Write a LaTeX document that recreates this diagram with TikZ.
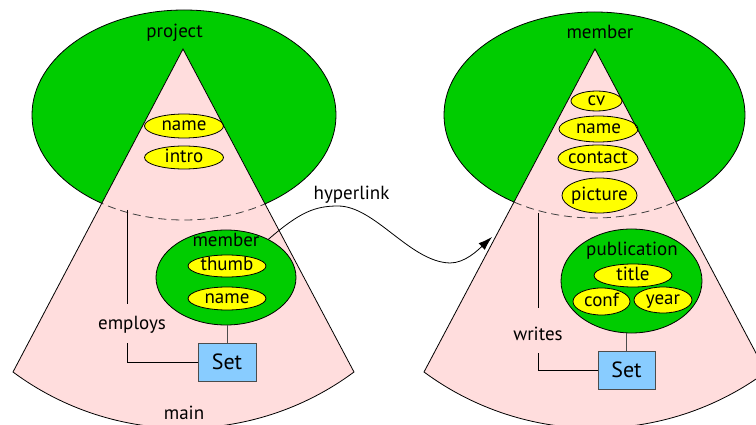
\documentclass[tikz,border=0pt]{standalone}
\usepackage{fontspec}
\setmainfont{PT Sans}
\usetikzlibrary{shapes.geometric,arrows.meta}
\definecolor{cgreen}{RGB}{0,204,0}
\definecolor{cpink}{RGB}{255,221,221}
\definecolor{cyell}{RGB}{255,255,0}
\definecolor{cblue}{RGB}{136,204,255}
\begin{document}
\begin{tikzpicture}[x=1pt,y=-1pt,line width=0.8pt,
  lab/.style={font=\fontsize{19}{21}\selectfont,anchor=base,inner sep=0},
  big/.style={ellipse,draw,fill=cgreen,inner sep=0},
  grn/.style={ellipse,draw,fill=cgreen,inner sep=0},
  yel/.style={ellipse,draw,fill=cyell,inner sep=-6pt,font=\fontsize{19}{21}\selectfont,text height=13.3pt,text depth=3.8pt},
  setbox/.style={draw=black!70,fill=cblue,minimum width=58pt,minimum height=38pt,inner sep=0,font=\fontsize{22}{24}\selectfont,text height=15.4pt,text depth=0pt},
  wire/.style={draw=black!70},
  hid/.style={draw=black!75,dash pattern=on 8pt off 5pt}]
\useasboundingbox (0,0) rectangle (756,425);
\clip (0,0) rectangle (756,425);
\fill[white] (0,0) rectangle (756,425);
% ---------- left: project ----------
\node[big,minimum width=304pt,minimum height=210pt] (P) at (184,115) {};
\fill[cpink] (183,49) -- (13,372) .. controls (114,447) and (253,447) .. (354,372) -- cycle;
\begin{scope}
\clip (183,49) -- (13,372) .. controls (114,447) and (253,447) .. (354,372) -- cycle;
\draw[hid] (184,115) ellipse [x radius=152pt,y radius=105pt];
\end{scope}
\node[lab] (projt) at (174.5,38) {project};
\node[yel,minimum width=79pt,minimum height=24pt] (pname) at (184,126) {name};
\node[yel,minimum width=79pt,minimum height=23pt] (pintro) at (184,157.5) {intro};
\node[grn,minimum width=140pt,minimum height=95pt] (mem1) at (226,277.5) {};
\node[lab] (mem1t) at (226,246.5) {member};
\node[yel,minimum width=78pt,minimum height=22pt] (thumb) at (227,266) {thumb};
\node[yel,minimum width=78pt,minimum height=23pt] (mname) at (227,298.5) {name};
\draw (183,49) -- (13,372) .. controls (114,447) and (253,447) .. (354,372) -- cycle;
\node[setbox] (set1) at (227,362) {Set};
\draw[wire] (set1.north) -- (set1.north |- mem1.south);
\coordinate (e1) at (127,210);
\coordinate (e2) at (127,304);
\coordinate (e3) at (127,343);
\node[lab] (emp) at (132,329) {employs};
\draw (e1) -- (e2);
\draw (e3) |- (set1.west);
\node[lab] (maint) at (184,419) {main};
% ---------- right: member ----------
\node[big,minimum width=301pt,minimum height=206pt] (M) at (594.5,115) {};
\fill[cpink] (595,49) -- (424,372) .. controls (525.5,447) and (664.5,447) .. (766,372) -- cycle;
\begin{scope}
\clip (595,49) -- (424,372) .. controls (525.5,447) and (664.5,447) .. (766,372) -- cycle;
\draw[hid] (594.5,115) ellipse [x radius=150.5pt,y radius=103pt];
\end{scope}
\node[lab] (memt) at (600,39) {member};
\node[yel,minimum width=51pt,minimum height=20pt] (cv) at (596.5,101) {cv};
\node[yel,minimum width=79pt,minimum height=26pt] (rname) at (598.5,129) {name};
\node[yel,minimum width=80pt,minimum height=27pt] (contact) at (598,158.5) {contact};
\node[yel,minimum width=75pt,minimum height=35pt] (picture) at (599.5,195.5) {picture};
\node[grn,minimum width=141pt,minimum height=104pt] (pub) at (631.5,281) {};
\node[lab] (pubt) at (632,255.5) {publication};
\node[yel,minimum width=78pt,minimum height=23pt] (title) at (633,275.5) {title};
\node[yel,minimum width=57pt,minimum height=27pt] (conf) at (601.5,301.5) {conf};
\node[yel,minimum width=58pt,minimum height=26pt] (year) at (663,300) {year};
\draw (595,49) -- (424,372) .. controls (525.5,447) and (664.5,447) .. (766,372) -- cycle;
\node[setbox,minimum width=57pt] (set2) at (626.5,370) {Set};
\draw[wire] (set2.north) -- (set2.north |- pub.south);
\coordinate (w1) at (538,213);
\coordinate (w2) at (538,308);
\coordinate (w3) at (538,353);
\node[lab] (wr) at (538,340) {writes};
\draw (w1) -- (w2);
\draw (w3) |- (set2.west);
% ---------- hyperlink ----------
\node[lab] (hl) at (351.5,200) {hyperlink};
\coordinate (h2) at (492,237);
\draw[-{Latex[length=14pt,width=9pt]}] (mem1.42) .. controls (300,212) and (315,206) .. (338,206) .. controls (375,206) and (410,262) .. (450,263) .. controls (465,263) and (478,250) .. (h2);
\end{tikzpicture}
\end{document}
